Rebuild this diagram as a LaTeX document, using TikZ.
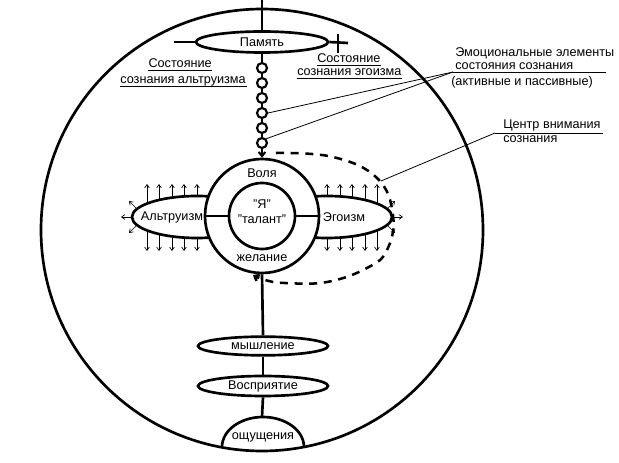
\documentclass[tikz,border=0pt]{standalone}
\usepackage{fontspec}
\setmainfont{Liberation Sans}
\usetikzlibrary{arrows.meta,shapes.geometric}
\begin{document}
\begin{tikzpicture}[x=0.75pt,y=-0.75pt,
  heavy/.style={line width=2pt},
  chainl/.style={line width=1.6pt},
  fine/.style={line width=0.6pt},
  lbl/.style={font=\fontsize{9.5}{11.5}\selectfont, inner sep=0pt},
  oval/.style={ellipse, draw, heavy, inner sep=0pt},
  ray/.style={line width=0.5pt, -{Straight Barb[length=2.5pt,width=3.5pt]}},
  bigtip/.style={-{Straight Barb[length=3pt,width=5pt]}},
]
\useasboundingbox (0,0) rectangle (619,463);
% outer world circle
\node[circle, draw, heavy, minimum size=331.5pt, inner sep=0pt] (world) at (262,230) {};
% memory
\coordinate (top) at (262,0);
\node[oval, fill=white, minimum width=99pt, minimum height=15.75pt, lbl] (mem) at (262,42) {Память};
\draw[heavy] (top) -- (mem.north);
\coordinate (minusl) at (174,42);
\draw[heavy] (minusl) -- (mem.west);
\coordinate (plusr) at (348,43);
\coordinate (plust) at (338,34);
\coordinate (plusb) at (338,53);
\draw[heavy] (mem.east) -- (plusr);
\draw[heavy] (plust) -- (plusb);
% state labels
\node[lbl, anchor=base east] (s1) at (212,68) {Состояние};
\node[lbl, anchor=base east] (s2) at (246,84) {сознания альтруизма};
\draw[fine] ([yshift=-1.6pt]s1.base west) -- ([yshift=-1.6pt]s1.base east);
\draw[fine] ([yshift=-1.6pt]s2.base west) -- ([yshift=-1.6pt,xshift=1pt]s2.base east);
\node[lbl, anchor=base west] (e1) at (317,63) {Состояние};
\node[lbl, anchor=base west] (e2) at (297,76) {сознания эгоизма};
\draw[fine] ([yshift=-2pt]e1.base west) -- ([yshift=-2pt]e1.base east);
\draw[fine] ([yshift=-1.6pt]e2.base west) -- ([yshift=-1.6pt]e2.base east);
% chain
\foreach \i/\y in {1/68,2/83,3/98,4/113,5/128,6/143}{
  \node[circle, draw, chainl, minimum size=7.5pt, inner sep=0pt] (c\i) at (262,\y) {};
}
\draw[chainl] (mem.south) -- (c1);
\draw[chainl] (c1) -- (c2);
\draw[chainl] (c2) -- (c3);
\draw[chainl] (c3) -- (c4);
\draw[chainl] (c4) -- (c5);
\draw[chainl] (c5) -- (c6);
% side ellipses
\node[oval, minimum width=97.5pt, minimum height=31.5pt] (alt) at (197,217) {};
\node[oval, minimum width=97.5pt, minimum height=31.5pt] (ego) at (327,217) {};
\node[lbl] (altt) at (172,217) {Альтруизм};
\node[lbl] (egot) at (344,217) {Эгоизм};
% rays on the ellipses
\foreach \x/\t/\b in {147/203.6/230.4,159/200/234,172/197.6/236.4,184/196.4/237.6,197/196/238}{
  \draw[ray] (\x,\t) -- (\x,184);
  \draw[ray] (\x,\b) -- (\x,251);
  \draw[ray] ({524-\x},\t) -- ({524-\x},184);
  \draw[ray] ({524-\x},\b) -- ({524-\x},251);
}
\draw[ray] (137,209) -- (129,201);
\draw[ray] (132,217) -- (121,217);
\draw[ray] (137,225) -- (129,233);
\draw[ray] (387,209) -- (395,201);
\draw[ray] (392,217) -- (403,217);
\draw[ray] (387,225) -- (395,233);
% ring
\node[circle, draw, heavy, fill=white, minimum size=85.5pt, inner sep=0pt] (ring) at (262,216) {};
\node[circle, draw, heavy, minimum size=49.5pt, inner sep=0pt] (self) at (262,216) {};
\node[lbl, align=center] (selft) at (262,212) {"Я"\\"талант"};
\draw[heavy] (ring.west) -- (self.west);
\draw[heavy] (ring.east) -- (self.east);
\node[lbl] (will) at (262,173) {Воля};
\node[lbl] (wish) at (262,258) {желание};
\draw[chainl, bigtip] (c6) -- (ring.north);
% lower column
\node[oval, fill=white, minimum width=97.5pt, minimum height=14pt, lbl] (think) at (263,346) {мышление};
\node[oval, fill=white, minimum width=97.5pt, minimum height=15pt, lbl] (perc) at (263,386) {Восприятие};
\coordinate (domel) at (222,447);
\coordinate (dometop) at (262,417);
\draw[heavy] (domel) arc[start angle=180, end angle=360, x radius=41, y radius=30];
\node[lbl] (sens) at (263,437) {ощущения};
\draw[heavy] (ring.south) -- (think.north);
\draw[heavy] (think.south) -- (perc.north);
\draw[heavy] (perc.south) -- (dometop);
% attention loop
\coordinate (loopa) at (276,153);
\coordinate (loopz) at (253,275);
\coordinate (focus) at (381,181);
\draw[line width=1.9pt, dash pattern=on 6pt off 5pt, bigtip] plot[smooth, tension=0.7] coordinates {(loopa) (333,157) (377,178) (393,215) (387,250) (367,268) (327,282) (285,283) (265,280) (loopz)};
% emotional elements
\coordinate (emo) at (453,72);
\coordinate (emoend) at (606,72);
\draw[fine] (emo) -- (emoend);
\draw[fine] (emo) -- (c4.east);
\draw[fine] (emo) -- (c6.north east);
\node[lbl, anchor=base west] (m1) at (455,57) {Эмоциональные элементы};
\node[lbl, anchor=base west] (m2) at (455,70) {состояния сознания};
\node[lbl, anchor=base west] (m3) at (451,86) {(активные и пассивные)};
% attention centre
\coordinate (att) at (495,133);
\coordinate (attend) at (603,133);
\draw[fine] (att) -- (attend);
\draw[fine] (att) -- (focus);
\node[lbl, anchor=base west] (a1) at (503,129) {Центр внимания};
\node[lbl, anchor=base west] (a2) at (503,143) {сознания};
\end{tikzpicture}
\end{document}
